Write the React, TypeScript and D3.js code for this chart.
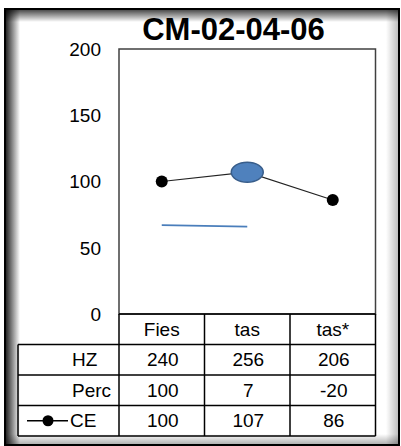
import React from "react";
import * as d3 from "d3";

const title = "CM-02-04-06";
const categories = ["Fies", "tas", "tas*"];
const yTicks = [0, 50, 100, 150, 200];
const rowNames = ["HZ", "Perc", "CE"];
const hzValues = [240, 256, 206];
const percValues = [100, 7, -20];
const ceValues = [100, 107, 86];
const blueLineCats = ["Fies", "tas"];
const blueLineValues = [67, 66];
const highlightCat = "tas";

const FONT = "'Liberation Sans', Arial, sans-serif";

export default function App() {
  const W = 401, H = 446;
  const plotL = 119, plotR = 375.5, plotT = 49, plotB = 314;
  const x = d3.scaleBand<string>().domain(categories).range([plotL, plotR]);
  const y = d3.scaleLinear().domain([0, 200]).range([plotB, plotT]);
  const cx = (c: string) => (x(c) ?? 0) + x.bandwidth() / 2;

  const line = d3.line<[string, number]>().x(d => cx(d[0])).y(d => y(d[1]));
  const cePath = line(categories.map((c, i) => [c, ceValues[i]] as [string, number])) || "";
  const bluePath = line(blueLineCats.map((c, i) => [c, blueLineValues[i]] as [string, number])) || "";

  const rowH = 30.5;
  const tableTop = plotB;
  const rows = [hzValues, percValues, ceValues];
  const tableLeft = 18;
  const tableBottom = tableTop + rowH * 4;

  return (
    <svg width={W} height={H} style={{ position: "absolute", left: 0, top: 0, display: "block" }} fontFamily={FONT}>
      <defs>
        <linearGradient id="gl" x1="0" x2="1" y1="0" y2="0">
          <stop offset="0" stopColor="#000" stopOpacity="0.85" />
          <stop offset="1" stopColor="#000" stopOpacity="0" />
        </linearGradient>
        <linearGradient id="gt" x1="0" x2="0" y1="0" y2="1">
          <stop offset="0" stopColor="#000" stopOpacity="0.7" />
          <stop offset="1" stopColor="#000" stopOpacity="0" />
        </linearGradient>
        <linearGradient id="gr" x1="1" x2="0" y1="0" y2="0">
          <stop offset="0" stopColor="#000" stopOpacity="0.25" />
          <stop offset="1" stopColor="#000" stopOpacity="0" />
        </linearGradient>
        <linearGradient id="gb" x1="0" x2="0" y1="1" y2="0">
          <stop offset="0" stopColor="#000" stopOpacity="0.3" />
          <stop offset="1" stopColor="#000" stopOpacity="0" />
        </linearGradient>
      </defs>
      <rect x={0} y={0} width={W} height={H} fill="#fff" />
      {/* frame with inner shadow */}
      <rect x={6} y={10} width={14} height={434} fill="url(#gl)" />
      <rect x={6} y={10} width={392} height={12} fill="url(#gt)" />
      <rect x={386} y={10} width={12} height={434} fill="url(#gr)" />
      <rect x={6} y={434} width={392} height={10} fill="url(#gb)" />
      <rect x={5} y={9} width={394} height={436} fill="none" stroke="#000" strokeWidth={2} />

      {/* title */}
      <text x={233.5} y={40} textAnchor="middle" fontSize={31} fontWeight="bold" fill="#000">{title}</text>

      {/* plot area */}
      <rect x={plotL} y={plotT} width={plotR - plotL} height={plotB - plotT} fill="#fff" stroke="#404040" strokeWidth={1.5} />

      {/* y ticks */}
      {yTicks.map(t => (
        <text key={t} x={101} y={y(t)} dy="0.36em" textAnchor="end" fontSize={19} fill="#000">{t}</text>
      ))}

      {/* blue line */}
      <path d={bluePath} fill="none" stroke="#4a7ebb" strokeWidth={1.8} />

      {/* CE line */}
      <path d={cePath} fill="none" stroke="#222" strokeWidth={1.2} />
      {categories.map((c, i) =>
        c === highlightCat ? (
          <ellipse key={c} cx={cx(c)} cy={y(ceValues[i])} rx={16} ry={10} fill="#4f81bd" stroke="#385d8a" strokeWidth={1.5} />
        ) : (
          <circle key={c} cx={cx(c)} cy={y(ceValues[i])} r={6} fill="#000" />
        )
      )}

      {/* data table */}
      <g stroke="#000" strokeWidth={1.5} fill="none">
        <line x1={plotL} x2={plotR} y1={tableTop} y2={tableTop} />
        {[1, 2, 3, 4].map(r => (
          <line key={r} x1={tableLeft} x2={plotR} y1={tableTop + rowH * r} y2={tableTop + rowH * r} />
        ))}
        <line x1={tableLeft} x2={tableLeft} y1={tableTop + rowH} y2={tableBottom} />
        {categories.map(c => (
          <line key={c} x1={x(c)} x2={x(c)} y1={tableTop} y2={tableBottom} />
        ))}
        <line x1={plotR} x2={plotR} y1={tableTop} y2={tableBottom} />
      </g>
      {categories.map(c => (
        <text key={c} x={cx(c)} y={tableTop + rowH - 9} textAnchor="middle" fontSize={19} fill="#000">{c}</text>
      ))}
      {rowNames.map((n, r) => (
        <g key={n}>
          <text x={r === 2 ? 70 : 72} y={tableTop + rowH * (r + 2) - 9} fontSize={19} fill="#000">{n}</text>
          {rows[r].map((v, i) => (
            <text key={i} x={cx(categories[i]) + 1} y={tableTop + rowH * (r + 2) - 9} textAnchor="middle" fontSize={19} fill="#000">{v}</text>
          ))}
        </g>
      ))}
      {/* legend key for CE */}
      <line x1={27} x2={68} y1={tableTop + rowH * 3.5} y2={tableTop + rowH * 3.5} stroke="#000" strokeWidth={1.5} />
      <circle cx={48} cy={tableTop + rowH * 3.5} r={5.5} fill="#000" />
    </svg>
  );
}
